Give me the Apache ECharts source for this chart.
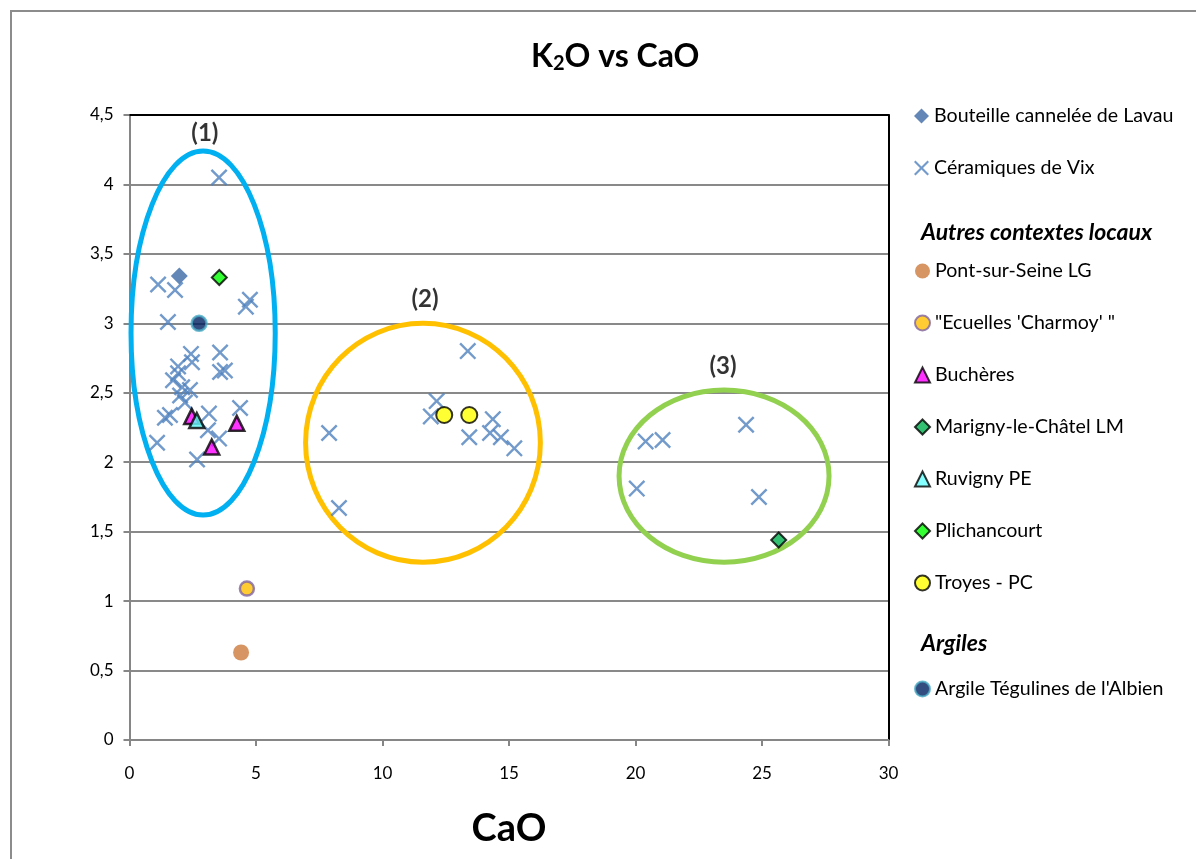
<!DOCTYPE html>
<html>
<head>
<meta charset="utf-8">
<script src="https://cdn.jsdelivr.net/npm/echarts@6/dist/echarts.min.js"></script>
<style>
html,body{margin:0;padding:0;background:#fff;}
#chart{width:1196px;height:859px;}
</style>
</head>
<body>
<div id="chart"></div>
<script>
// ---- Data (CaO, K2O) ----
const bouteille = [[1.97, 3.34]];
const ceramiquesVix = [
  [3.54, 4.05], [1.13, 3.28], [1.80, 3.24], [4.76, 3.17], [4.60, 3.12], [1.52, 3.01],
  [2.43, 2.78], [3.58, 2.79], [2.47, 2.72], [1.92, 2.69], [1.92, 2.64], [1.72, 2.59],
  [3.58, 2.65], [3.77, 2.66], [2.08, 2.54], [2.39, 2.52], [2.00, 2.48], [2.19, 2.43],
  [1.40, 2.32], [1.60, 2.34], [3.14, 2.35], [3.10, 2.23], [3.54, 2.17], [2.67, 2.02],
  [4.37, 2.39], [1.09, 2.14],
  [13.37, 2.80], [12.14, 2.44], [11.91, 2.33], [13.43, 2.18], [14.36, 2.31], [14.25, 2.21],
  [14.68, 2.18], [15.21, 2.10], [7.89, 2.21], [8.28, 1.67],
  [24.37, 2.27], [20.40, 2.15], [21.07, 2.16], [20.05, 1.81], [24.88, 1.75]
];
const pontSurSeine = [[4.41, 0.63]];
const ecuelles = [[4.64, 1.09]];
const bucheres = [[2.46, 2.33], [4.24, 2.28], [3.25, 2.11]];
const marigny = [[25.66, 1.44]];
const ruvigny = [[2.66, 2.30]];
const plichancourt = [[3.55, 3.33]];
const troyes = [[12.44, 2.34], [13.43, 2.34]];
const argile = [[2.75, 3.00]];

// Cluster annotations: [centerCaO, centerK2O, radiusCaO, radiusK2O]
const clusterEllipses = [[2.91, 2.93, 2.85, 1.31], [11.60, 2.14, 4.64, 0.86], [23.50, 1.90, 4.15, 0.62]];
const clusterNames = ['(1)', '(2)', '(3)'];
const clusterLabelPos = [[2.98, 4.37], [11.68, 3.17], [23.46, 2.69]];

const xTicks = [0, 5, 10, 15, 20, 25, 30];
const yTicks = [0, 0.5, 1, 1.5, 2, 2.5, 3, 3.5, 4, 4.5];

const legendGroup1 = ['Bouteille cannelée de Lavau', 'Céramiques de Vix'];
const legendGroup2 = ['Pont-sur-Seine LG', "\"Ecuelles 'Charmoy' \"", 'Buchères', 'Marigny-le-Châtel LM', 'Ruvigny PE', 'Plichancourt', 'Troyes - PC'];
const legendGroup3 = ["Argile Tégulines de l'Albien"];

// ---- Chart ----
const FONT = 'Lato';
const ellipseColors = ['#00B0F0', '#FFC000', '#92D050'];
const crossPath = 'path://M0,1L1,0L5,4L9,0L10,1L6,5L10,9L9,10L5,6L1,10L0,9L4,5Z';

const chart = echarts.init(document.getElementById('chart'));

function legendCfg(data, top) {
  return {
    data: data, orient: 'vertical', left: 909, top: top,
    itemWidth: 15, itemHeight: 15, itemGap: 32,
    textStyle: { fontFamily: FONT, fontSize: 19.6, color: '#000', lineHeight: 20 },
    selectedMode: false
  };
}

const headerStyle = { fontFamily: FONT, fontSize: 23, fontWeight: 'bold', fontStyle: 'italic', color: '#000' };

const option = {
  animation: false,
  backgroundColor: '#fff',
  textStyle: { fontFamily: FONT },
  title: [
    {
      text: '{a|K}{s|2}{a|O vs CaO}', left: 526, top: 32,
      textStyle: {
        rich: {
          a: { fontFamily: FONT, fontSize: 32, fontWeight: 'bold', color: '#000', lineHeight: 40 },
          s: { fontFamily: FONT, fontSize: 20, fontWeight: 'bold', color: '#000', lineHeight: 40, padding: [14, 0, 0, 0] }
        }
      }
    },
    { text: 'Autres contextes locaux', left: 916, top: 216, textStyle: headerStyle },
    { text: 'Argiles', left: 916, top: 627, textStyle: headerStyle }
  ],
  legend: [legendCfg(legendGroup1, 101), legendCfg(legendGroup2, 256), legendCfg(legendGroup3, 674)],
  graphic: [{
    type: 'rect', silent: true, z: -10,
    shape: { x: 11, y: 11, width: 1200, height: 860 },
    style: { fill: 'none', stroke: '#8c8c8c', lineWidth: 2 }
  }],
  grid: { left: 129.5, right: 307.5, top: 115, bottom: 119, containLabel: false },
  xAxis: [
    {
      type: 'value', min: xTicks[0], max: xTicks[xTicks.length - 1], interval: 5,
      name: 'CaO', nameLocation: 'middle', nameGap: 70,
      nameTextStyle: { fontFamily: FONT, fontSize: 38, fontWeight: 'bold', color: '#000' },
      axisLine: { lineStyle: { color: '#868686', width: 2 } },
      axisTick: { show: true, length: 6, lineStyle: { color: '#868686', width: 2 } },
      axisLabel: { fontFamily: FONT, fontSize: 17, color: '#000', margin: 25 },
      splitLine: { show: false }
    },
    {
      type: 'value', position: 'top', min: 0, max: 30,
      axisLine: { onZero: false, lineStyle: { color: '#000', width: 2 } },
      axisTick: { show: false }, axisLabel: { show: false }, splitLine: { show: false }
    }
  ],
  yAxis: [
    {
      type: 'value', min: yTicks[0], max: yTicks[yTicks.length - 1], interval: 0.5,
      axisLine: { show: true, lineStyle: { color: '#868686', width: 2 } },
      axisTick: { show: true, length: 6, lineStyle: { color: '#868686', width: 2 } },
      axisLabel: { fontFamily: FONT, fontSize: 17, color: '#000', margin: 16,
        formatter: v => String(v).replace('.', ',') },
      splitLine: { show: true, lineStyle: { color: '#898989', width: 2 } }
    },
    {
      type: 'value', position: 'right', min: 0, max: 4.5,
      axisLine: { show: true, onZero: false, lineStyle: { color: '#000', width: 2 } },
      axisTick: { show: false }, axisLabel: { show: false }, splitLine: { show: false }
    }
  ],
  series: [
    {
      type: 'custom', name: 'clusters', z: 1, silent: true,
      data: clusterEllipses,
      renderItem: function (params, api) {
        const c = api.coord([api.value(0), api.value(1)]);
        const s = api.size([api.value(2), api.value(3)]);
        return {
          type: 'ellipse',
          shape: { cx: c[0], cy: c[1], rx: s[0], ry: s[1] },
          style: { fill: 'none', stroke: ellipseColors[params.dataIndex], lineWidth: 5 }
        };
      }
    },
    {
      type: 'scatter', name: 'labels', silent: true, symbolSize: 0,
      data: clusterNames.map((n, i) => ({ name: n, value: clusterLabelPos[i] })),
      label: { show: true, position: 'inside', formatter: '{b}', fontFamily: FONT, fontSize: 24, fontWeight: 'bold', color: '#000' }
    },
    { type: 'scatter', name: 'Céramiques de Vix', data: ceramiquesVix, symbol: crossPath, symbolSize: 17,
      itemStyle: { color: '#4F81BD' }, z: 3 },
    { type: 'scatter', name: 'Bouteille cannelée de Lavau', data: bouteille, symbol: 'diamond', symbolSize: 17,
      itemStyle: { color: '#3C6AA6' }, z: 4 },
    { type: 'scatter', name: 'Pont-sur-Seine LG', data: pontSurSeine, symbol: 'circle', symbolSize: 16,
      itemStyle: { color: '#CD7B3C' }, z: 4 },
    { type: 'scatter', name: "\"Ecuelles 'Charmoy' \"", data: ecuelles, symbol: 'circle', symbolSize: 14,
      itemStyle: { color: '#FFC000', borderColor: '#7F64A2', borderWidth: 2.5 }, z: 4 },
    { type: 'scatter', name: 'Buchères', data: bucheres, symbol: 'triangle', symbolSize: 15,
      itemStyle: { color: '#FF00FF', borderColor: '#000', borderWidth: 2.5 }, z: 4 },
    { type: 'scatter', name: 'Marigny-le-Châtel LM', data: marigny, symbol: 'diamond', symbolSize: 15,
      itemStyle: { color: '#00B050', borderColor: '#000', borderWidth: 2 }, z: 4 },
    { type: 'scatter', name: 'Ruvigny PE', data: ruvigny, symbol: 'triangle', symbolSize: 15,
      itemStyle: { color: '#66FFFF', borderColor: '#000', borderWidth: 2.5 }, z: 5 },
    { type: 'scatter', name: 'Plichancourt', data: plichancourt, symbol: 'diamond', symbolSize: 15,
      itemStyle: { color: '#00FF00', borderColor: '#000', borderWidth: 2 }, z: 4 },
    { type: 'scatter', name: 'Troyes - PC', data: troyes, symbol: 'circle', symbolSize: 16,
      itemStyle: { color: '#FFFF00', borderColor: '#000', borderWidth: 2 }, z: 4 },
    { type: 'scatter', name: "Argile Tégulines de l'Albien", data: argile, symbol: 'circle', symbolSize: 15,
      itemStyle: { color: '#002060', borderColor: '#4BACC6', borderWidth: 2.5 }, z: 4 }
  ]
};
chart.setOption(option);
</script>
</body>
</html>
